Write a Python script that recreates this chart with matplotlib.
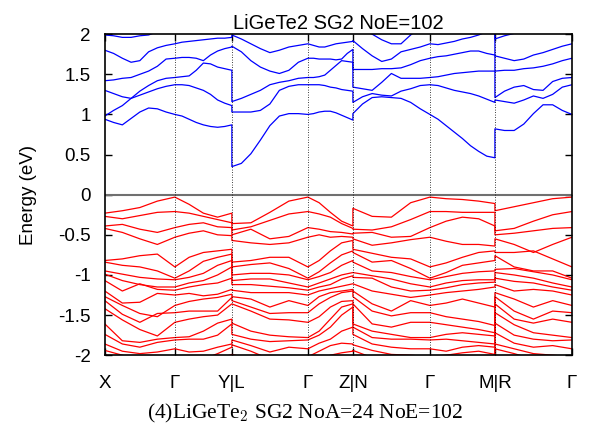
import matplotlib
matplotlib.use("Agg")
import matplotlib.pyplot as plt

plt.rcParams['font.family'] = ['Liberation Sans', 'DejaVu Sans']
plt.rcParams['mathtext.fontset'] = 'cm'

# k-path: high symmetry points and their positions along the path
klabels = ["X", "Γ", "Y|L", "Γ", "Z|N", "Γ", "M|R", "Γ"]
kticks = [0, 70, 127, 203, 248, 325, 390, 467]
frac_c = [0, 0.125, 0.25, 0.375, 0.5, 0.625, 0.75, 0.875, 1.0]   # samples per segment, conduction
frac_v = [0, 0.25, 0.5, 0.75, 1.0]                               # samples per segment, valence

# conduction bands (eV), one row per band
c_XG = [[0.94, 0.90, 0.87, 0.95, 1.03, 1.08, 1.07, 1.03, 1.00],
        [0.98, 1.05, 1.11, 1.20, 1.24, 1.28, 1.32, 1.35, 1.37],
        [1.30, 1.26, 1.22, 1.20, 1.29, 1.36, 1.42, 1.45, 1.46],
        [1.42, 1.43, 1.45, 1.46, 1.50, 1.54, 1.60, 1.69, 1.70],
        [1.80, 1.76, 1.70, 1.65, 1.67, 1.78, 1.83, 1.86, 1.88],
        [1.99, 1.98, 1.96, 1.96, 1.98, 1.99, 2.03, 2.06, 2.10]]
c_GY = [[1.00, 0.98, 0.94, 0.90, 0.87, 0.85, 0.84, 0.85, 0.87],
        [1.37, 1.37, 1.36, 1.33, 1.30, 1.25, 1.18, 1.14, 1.11],
        [1.46, 1.47, 1.48, 1.55, 1.64, 1.63, 1.59, 1.57, 1.55],
        [1.70, 1.71, 1.71, 1.70, 1.67, 1.74, 1.79, 1.82, 1.84],
        [1.88, 1.90, 1.91, 1.92, 1.93, 1.94, 1.95, 1.95, 1.96],
        [2.10, 2.12, 2.12, 2.12, 2.12, 2.12, 2.10, 2.10, 2.08]]
c_LG = [[0.35, 0.39, 0.51, 0.68, 0.86, 0.98, 1.01, 1.01, 1.00],
        [1.03, 1.03, 1.03, 1.05, 1.13, 1.30, 1.35, 1.37, 1.37],
        [1.16, 1.20, 1.25, 1.30, 1.37, 1.40, 1.42, 1.45, 1.46],
        [1.85, 1.78, 1.67, 1.59, 1.54, 1.51, 1.55, 1.65, 1.70],
        [1.99, 1.94, 1.88, 1.82, 1.77, 1.80, 1.84, 1.86, 1.88],
        [2.08, 2.08, 2.10, 2.10, 2.10, 2.10, 2.10, 2.10, 2.10]]
c_GZ = [[1.00, 1.01, 1.03, 1.04, 1.04, 1.02, 0.99, 0.96, 0.93],
        [1.37, 1.37, 1.37, 1.36, 1.34, 1.33, 1.31, 1.30, 1.29],
        [1.46, 1.46, 1.47, 1.49, 1.55, 1.61, 1.67, 1.66, 1.65],
        [1.70, 1.70, 1.69, 1.69, 1.69, 1.68, 1.69, 1.76, 1.81],
        [1.88, 1.86, 1.84, 1.84, 1.86, 1.88, 1.89, 1.90, 1.91],
        [2.10, 2.10, 2.12, 2.12, 2.12, 2.12, 2.10, 2.10, 2.10]]
c_NG = [[1.01, 1.13, 1.21, 1.22, 1.21, 1.20, 1.15, 1.07, 1.00],
        [1.15, 1.22, 1.26, 1.24, 1.23, 1.29, 1.32, 1.36, 1.37],
        [1.34, 1.32, 1.30, 1.40, 1.51, 1.45, 1.45, 1.45, 1.46],
        [1.56, 1.56, 1.56, 1.57, 1.57, 1.58, 1.62, 1.67, 1.70],
        [1.92, 1.82, 1.73, 1.66, 1.69, 1.78, 1.81, 1.84, 1.88],
        [2.15, 2.06, 2.00, 1.93, 1.88, 1.88, 1.99, 2.08, 2.15]]
c_GM = [[1.00, 0.94, 0.86, 0.78, 0.70, 0.61, 0.54, 0.48, 0.46],
        [1.37, 1.36, 1.33, 1.30, 1.28, 1.26, 1.23, 1.19, 1.15],
        [1.46, 1.47, 1.49, 1.51, 1.52, 1.53, 1.54, 1.54, 1.54],
        [1.70, 1.72, 1.73, 1.75, 1.77, 1.79, 1.79, 1.76, 1.74],
        [1.88, 1.87, 1.89, 1.91, 1.94, 1.96, 1.99, 2.03, 2.08],
        [2.15, 2.15, 2.15, 2.15, 2.15, 2.15, 2.15, 2.15, 2.15]]
c_RG = [[0.82, 0.80, 0.80, 0.88, 1.01, 1.12, 1.12, 1.05, 1.00],
        [1.18, 1.16, 1.14, 1.18, 1.23, 1.20, 1.25, 1.34, 1.37],
        [1.21, 1.29, 1.34, 1.36, 1.31, 1.30, 1.41, 1.45, 1.46],
        [1.54, 1.55, 1.55, 1.57, 1.58, 1.60, 1.63, 1.67, 1.70],
        [1.73, 1.70, 1.67, 1.69, 1.74, 1.77, 1.81, 1.85, 1.88],
        [1.94, 1.98, 2.01, 2.05, 2.10, 2.12, 2.15, 2.15, 2.15]]

# valence bands (eV)
v_XG = [[-0.23, -0.20, -0.16, -0.08, -0.03],
        [-0.27, -0.30, -0.26, -0.22, -0.21],
        [-0.39, -0.37, -0.43, -0.47, -0.41],
        [-0.42, -0.47, -0.55, -0.62, -0.53],
        [-0.82, -0.80, -0.76, -0.74, -0.90],
        [-0.84, -0.88, -0.90, -0.95, -1.04],
        [-0.95, -0.99, -1.03, -1.05, -1.06],
        [-0.99, -1.07, -1.12, -1.15, -1.15],
        [-1.07, -1.20, -1.11, -1.18, -1.19],
        [-1.20, -1.35, -1.34, -1.23, -1.25],
        [-1.27, -1.38, -1.48, -1.52, -1.38],
        [-1.32, -1.49, -1.59, -1.48, -1.47],
        [-1.42, -1.56, -1.68, -1.76, -1.59],
        [-1.61, -1.82, -1.84, -1.80, -1.78],
        [-1.74, -1.86, -1.90, -1.84, -1.81],
        [-1.86, -1.95, -1.98, -1.96, -1.92],
        [-1.94, -2.00, -2.05, -2.02, -2.02],
        [-1.99, -2.10, -2.10, -2.08, -2.08]]
v_GY = [[-0.03, -0.12, -0.23, -0.28, -0.23],
        [-0.21, -0.23, -0.27, -0.31, -0.35],
        [-0.41, -0.37, -0.35, -0.40, -0.41],
        [-0.53, -0.48, -0.45, -0.50, -0.51],
        [-0.90, -0.78, -0.72, -0.70, -0.68],
        [-1.04, -0.95, -0.83, -0.78, -0.74],
        [-1.06, -1.03, -0.98, -0.88, -0.82],
        [-1.15, -1.10, -1.07, -1.00, -0.90],
        [-1.19, -1.15, -1.12, -1.10, -1.04],
        [-1.25, -1.23, -1.26, -1.24, -1.18],
        [-1.38, -1.33, -1.30, -1.28, -1.24],
        [-1.47, -1.45, -1.45, -1.45, -1.28],
        [-1.59, -1.55, -1.52, -1.50, -1.36],
        [-1.78, -1.77, -1.70, -1.60, -1.55],
        [-1.81, -1.80, -1.80, -1.75, -1.61],
        [-1.92, -1.96, -1.95, -1.90, -1.86],
        [-2.02, -2.05, -2.05, -1.98, -1.90],
        [-2.08, -2.10, -2.10, -2.05, -1.99]]
v_LG = [[-0.36, -0.35, -0.22, -0.08, -0.03],
        [-0.44, -0.40, -0.32, -0.24, -0.21],
        [-0.50, -0.43, -0.55, -0.52, -0.41],
        [-0.57, -0.60, -0.62, -0.60, -0.53],
        [-0.84, -0.82, -0.78, -0.78, -0.90],
        [-0.90, -0.87, -0.85, -0.92, -1.04],
        [-1.00, -0.98, -0.98, -1.00, -1.06],
        [-1.07, -1.05, -1.05, -1.10, -1.15],
        [-1.12, -1.12, -1.14, -1.16, -1.19],
        [-1.19, -1.22, -1.22, -1.22, -1.25],
        [-1.27, -1.30, -1.40, -1.32, -1.38],
        [-1.32, -1.40, -1.48, -1.47, -1.47],
        [-1.36, -1.45, -1.55, -1.56, -1.59],
        [-1.60, -1.70, -1.75, -1.77, -1.78],
        [-1.74, -1.80, -1.83, -1.82, -1.81],
        [-1.81, -1.88, -1.96, -1.90, -1.92],
        [-1.87, -1.95, -2.05, -2.04, -2.02],
        [-1.99, -2.05, -2.10, -2.10, -2.08]]
v_GZ = [[-0.03, -0.10, -0.22, -0.33, -0.39],
        [-0.21, -0.24, -0.28, -0.36, -0.42],
        [-0.41, -0.43, -0.46, -0.47, -0.49],
        [-0.53, -0.50, -0.53, -0.52, -0.53],
        [-0.90, -0.82, -0.70, -0.60, -0.57],
        [-1.04, -0.96, -0.85, -0.75, -0.70],
        [-1.06, -1.02, -0.97, -0.88, -0.82],
        [-1.15, -1.10, -1.05, -1.00, -0.97],
        [-1.19, -1.15, -1.12, -1.05, -1.01],
        [-1.25, -1.20, -1.17, -1.14, -1.11],
        [-1.38, -1.27, -1.22, -1.20, -1.18],
        [-1.47, -1.36, -1.28, -1.22, -1.20],
        [-1.59, -1.52, -1.40, -1.33, -1.32],
        [-1.78, -1.70, -1.55, -1.40, -1.36],
        [-1.81, -1.75, -1.65, -1.50, -1.40],
        [-1.92, -1.85, -1.80, -1.70, -1.65],
        [-2.02, -1.95, -1.88, -1.85, -1.86],
        [-2.08, -2.05, -2.00, -1.97, -1.95]]
v_NG = [[-0.17, -0.27, -0.28, -0.10, -0.03],
        [-0.43, -0.44, -0.40, -0.31, -0.21],
        [-0.48, -0.47, -0.53, -0.52, -0.41],
        [-0.55, -0.63, -0.60, -0.56, -0.53],
        [-0.68, -0.73, -0.78, -0.80, -0.90],
        [-0.72, -0.84, -0.82, -0.92, -1.04],
        [-0.84, -0.95, -0.97, -1.02, -1.06],
        [-0.97, -1.01, -1.05, -1.11, -1.15],
        [-1.03, -1.04, -1.15, -1.20, -1.19],
        [-1.11, -1.20, -1.24, -1.28, -1.25],
        [-1.20, -1.36, -1.45, -1.32, -1.38],
        [-1.27, -1.45, -1.51, -1.47, -1.47],
        [-1.36, -1.61, -1.65, -1.59, -1.59],
        [-1.61, -1.70, -1.74, -1.78, -1.78],
        [-1.65, -1.78, -1.80, -1.80, -1.81],
        [-1.74, -1.86, -1.90, -1.92, -1.92],
        [-1.87, -1.94, -1.99, -2.00, -2.02],
        [-1.94, -2.03, -2.07, -2.07, -2.08]]
v_GM = [[-0.03, -0.05, -0.06, -0.08, -0.11],
        [-0.21, -0.21, -0.22, -0.22, -0.22],
        [-0.41, -0.33, -0.28, -0.30, -0.39],
        [-0.53, -0.58, -0.62, -0.62, -0.64],
        [-0.90, -0.85, -0.78, -0.72, -0.70],
        [-1.04, -0.97, -0.88, -0.85, -0.82],
        [-1.06, -1.02, -0.98, -0.96, -0.95],
        [-1.15, -1.10, -1.07, -1.06, -1.06],
        [-1.19, -1.16, -1.12, -1.10, -1.09],
        [-1.25, -1.22, -1.20, -1.18, -1.15],
        [-1.38, -1.35, -1.30, -1.35, -1.40],
        [-1.47, -1.52, -1.55, -1.58, -1.63],
        [-1.59, -1.62, -1.65, -1.68, -1.72],
        [-1.78, -1.74, -1.72, -1.74, -1.76],
        [-1.81, -1.80, -1.82, -1.84, -1.86],
        [-1.92, -1.95, -1.90, -1.88, -1.90],
        [-2.02, -2.00, -1.97, -1.95, -1.99],
        [-2.08, -2.08, -2.06, -2.05, -2.05]]
v_RG = [[-0.20, -0.15, -0.10, -0.05, -0.03],
        [-0.45, -0.42, -0.33, -0.25, -0.21],
        [-0.50, -0.48, -0.45, -0.42, -0.41],
        [-0.55, -0.62, -0.72, -0.62, -0.53],
        [-0.72, -0.72, -0.70, -0.80, -0.90],
        [-0.76, -0.90, -0.95, -0.95, -1.04],
        [-0.93, -0.92, -0.96, -1.00, -1.06],
        [-0.97, -1.00, -1.04, -1.10, -1.15],
        [-1.04, -1.08, -1.10, -1.15, -1.19],
        [-1.12, -1.20, -1.18, -1.20, -1.25],
        [-1.22, -1.30, -1.40, -1.32, -1.38],
        [-1.27, -1.45, -1.55, -1.45, -1.47],
        [-1.36, -1.55, -1.60, -1.55, -1.59],
        [-1.47, -1.62, -1.72, -1.75, -1.78],
        [-1.60, -1.75, -1.80, -1.82, -1.81],
        [-1.72, -1.85, -1.90, -1.88, -1.92],
        [-1.86, -1.92, -1.98, -2.00, -2.02],
        [-1.92, -1.98, -2.05, -2.05, -2.08]]

cond = [c_XG, c_GY, c_LG, c_GZ, c_NG, c_GM, c_RG]
vale = [v_XG, v_GY, v_LG, v_GZ, v_NG, v_GM, v_RG]

fig = plt.figure(figsize=(5.89, 4.38), dpi=100)
ax = fig.add_axes([0.178, 0.189, 0.793, 0.733])

def draw(segs, frac, color):
    for b in range(len(segs[0])):
        xs, ys = [], []
        for s, seg in enumerate(segs):
            k0, k1 = kticks[s], kticks[s + 1]
            xs += [k0 + f * (k1 - k0) for f in frac]
            ys += seg[b]
        ax.plot(xs, ys, color=color, lw=0.9)

draw(vale, frac_v, "#ff0000")
draw(cond, frac_c, "#0000ff")

ax.axhline(0, color="#707070", lw=1.5)
for k in kticks[1:-1]:
    ax.axvline(k, color="black", lw=0.6, ls=(0, (1, 2)))

ax.set_xlim(kticks[0], kticks[-1])
ax.set_ylim(-2, 2)
ax.set_xticks(kticks)
ax.set_xticklabels(klabels, fontsize=13.5)
yt = [2, 1.5, 1, 0.5, 0, -0.5, -1, -1.5, -2]
ax.set_yticks(yt)
ax.set_yticklabels(["2", "1.5", "1", "0.5", "0", "-0.5", "-1", "-1.5", "-2"], fontsize=13.5)
ax.tick_params(direction="in", top=True, right=True, length=5, width=1)
ax.tick_params(axis="x", pad=14)
ax.tick_params(axis="y", pad=10)
for sp in ax.spines.values():
    sp.set_linewidth(1.2)
ax.set_ylabel("Energy (eV)", fontsize=13.5)
ax.yaxis.set_label_coords(-0.145, 0.5)
ax.set_title("LiGeTe2 SG2 NoE=102", fontsize=14.5, pad=4)

fig.text(0.518, 0.045, "(4)LiGeTe$_2$ SG2 NoA=24 NoE=102", ha="center",
         fontsize=15.5, family="Liberation Serif")

fig.savefig("out.png", dpi=100)
